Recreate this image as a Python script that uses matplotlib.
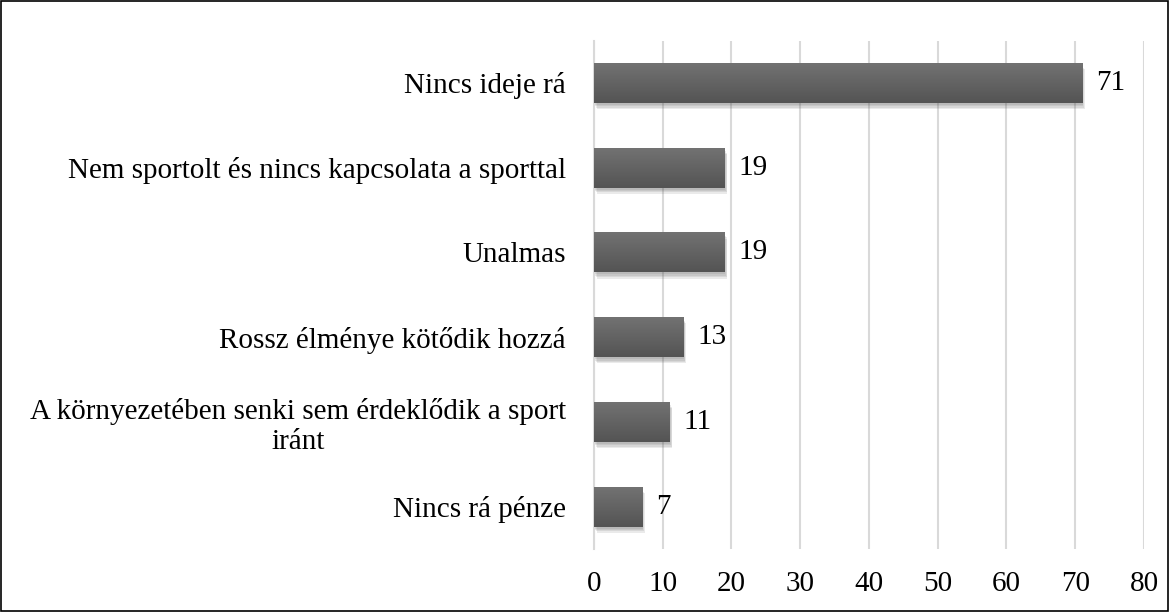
import numpy as np
import matplotlib.pyplot as plt
import matplotlib.patheffects as pe
from matplotlib.colors import LinearSegmentedColormap

categories = ["Nincs ideje rá",
              "Nem sportolt és nincs kapcsolata a sporttal",
              "Unalmas",
              "Rossz élménye kötődik hozzá",
              "A környezetében senki sem érdeklődik a sport\niránt",
              "Nincs rá pénze"]
values = [71, 19, 19, 13, 11, 7]
xticks = [0, 10, 20, 30, 40, 50, 60, 70, 80]

plt.rcParams['font.family'] = ['Liberation Serif', 'DejaVu Serif']

fig = plt.figure(figsize=(11.69, 6.12), dpi=100)
ax = fig.add_axes([0.508, 0.103, 0.4706, 0.8307])

ypos = list(range(len(categories)))
bars = ax.barh(ypos, values, height=0.47, color='#626262', zorder=3)
grad = np.linspace(0, 1, 64).reshape(-1, 1)
cmap = LinearSegmentedColormap.from_list('g', ['#727272', '#545454'])
# soft shadow: a few stacked faint copies
shadow = [pe.SimplePatchShadow(offset=(dx, dy), shadow_rgbFace='#555555', alpha=0.12)
          for dx, dy in [(0.5, -1.5), (1, -2.5), (1.5, -3.5), (2, -4.5)]]
for b in bars:
    b.set_path_effects(shadow + [pe.Normal()])
    x0, y0 = b.get_x(), b.get_y()
    im = ax.imshow(grad, cmap=cmap,
                   extent=(x0, x0 + b.get_width(), y0 + b.get_height(), y0),
                   aspect='auto', zorder=4, interpolation='bilinear')
    im.set_clip_path(b)

for y, v in zip(ypos, values):
    ax.annotate(str(v), (v, y), xytext=(10, 0), textcoords='offset points',
                va='center', ha='left', fontsize=21)

ax.set_ylim(len(categories) - 0.5, -0.5)
ax.set_xlim(0, 80)
ax.set_xticks(xticks)
ax.set_yticks(ypos)
ax.set_yticklabels(categories, multialignment='center')
ax.tick_params(axis='both', length=0, labelsize=21)
ax.tick_params(axis='y', pad=20)
ax.tick_params(axis='x', pad=16)
ax.grid(axis='x', color='#d9d9d9', linewidth=1.5, zorder=0)
for s in ['top', 'right', 'bottom']:
    ax.spines[s].set_visible(False)
ax.spines['left'].set_color('#d9d9d9')
ax.spines['left'].set_linewidth(1.5)

fig.patches.append(plt.Rectangle((0.001, 0.001), 0.998, 0.997, transform=fig.transFigure,
                                 fill=False, edgecolor='black', linewidth=1.2))

fig.savefig('out.png', dpi=100)
